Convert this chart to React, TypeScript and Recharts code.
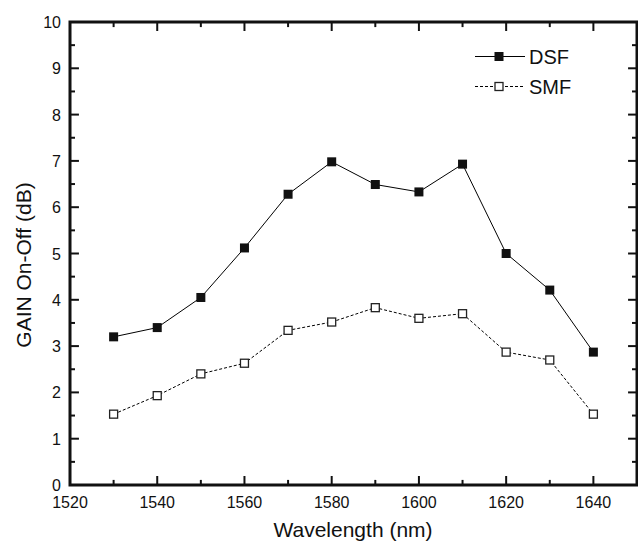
import { LineChart, Line, XAxis, YAxis, ReferenceArea, ReferenceLine } from "recharts";

const wavelengths = [1530, 1540, 1550, 1560, 1570, 1580, 1590, 1600, 1610, 1620, 1630, 1640];
const dsfGain = [3.2, 3.4, 4.05, 5.12, 6.28, 6.98, 6.49, 6.33, 6.93, 5.0, 4.21, 2.87];
const smfGain = [1.53, 1.93, 2.4, 2.63, 3.34, 3.52, 3.83, 3.6, 3.7, 2.87, 2.7, 1.53];

const xTicks = [1520, 1530, 1540, 1550, 1560, 1570, 1580, 1590, 1600, 1610, 1620, 1630, 1640, 1650];
const yTicks = [0, 0.5, 1, 1.5, 2, 2.5, 3, 3.5, 4, 4.5, 5, 5.5, 6, 6.5, 7, 7.5, 8, 8.5, 9, 9.5, 10];

const seriesNames = ["DSF", "SMF"];

const data = wavelengths.map((w, i) => ({
  wavelength: w,
  DSF: dsfGain[i],
  SMF: smfGain[i],
}));

const W = 638;
const H = 543;
const PLOT_LEFT = 70;
const PLOT_TOP = 22;
const PLOT_RIGHT = 637;
const PLOT_BOTTOM = 485;
const FONT = "'Liberation Sans', Arial, sans-serif";
const INK = "#111";

// tick lengths in data units (about 9px major / 5px minor)
const X_MIN = 1520;
const X_MAX = 1650;
const Y_MIN = 0;
const Y_MAX = 10;
const xTickLen = (major: boolean) => (major ? 0.195 : 0.11);
const yTickLen = (major: boolean) => (major ? 2.05 : 1.15);

const innerXTicks = xTicks.filter((v) => v > X_MIN && v < X_MAX);
const innerYTicks = yTicks.filter((v) => v > Y_MIN && v < Y_MAX);

function bottomTick(props: any) {
  const { x, y, payload } = props;
  const v = payload.value;
  if (v % 20 !== 0 || v >= 1650) return <g />;
  return (
    <text x={x} y={y + 23} textAnchor="middle" fontSize={16} fontFamily={FONT} fill={INK}>
      {v}
    </text>
  );
}

function leftTick(props: any) {
  const { x, y, payload } = props;
  const v = payload.value;
  if (!Number.isInteger(v)) return <g />;
  return (
    <text x={x - 9} y={y + 6} textAnchor="end" fontSize={16} fontFamily={FONT} fill={INK}>
      {v}
    </text>
  );
}

const FilledSquare = (props: any) => {
  const { cx, cy } = props;
  if (cx == null || cy == null) return <g />;
  return <rect x={cx - 4.5} y={cy - 4.5} width={9} height={9} fill="#111" />;
};

const OpenSquare = (props: any) => {
  const { cx, cy } = props;
  if (cx == null || cy == null) return <g />;
  return <rect x={cx - 4} y={cy - 4} width={8} height={8} fill="#fff" stroke="#222" strokeWidth={1.3} />;
};

// axis titles + legend as an overlay
const Overlay = () => (
  <svg
    width={W}
    height={H}
    style={{ position: "absolute", left: 0, top: 0, pointerEvents: "none" }}
  >
    <text x={353} y={537} textAnchor="middle" fontSize={21} fontFamily={FONT} fill={INK}>
      Wavelength (nm)
    </text>
    <text
      x={24}
      y={265}
      transform="rotate(-90, 24, 265)"
      textAnchor="middle"
      dy={7}
      fontSize={21}
      fontFamily={FONT}
      fill={INK}
    >
      GAIN On-Off (dB)
    </text>
    {seriesNames.map((name, i) => {
      const cy = 56.5 + i * 30;
      const dash = i === 0 ? undefined : "3 2";
      return (
        <g key={name}>
          <line x1={475} x2={525} y1={cy} y2={cy} stroke="#000" strokeWidth={1} strokeDasharray={dash} />
          {i === 0 ? (
            <rect x={494.5} y={cy - 4.5} width={9} height={9} fill="#111" />
          ) : (
            <rect x={495} y={cy - 4} width={8} height={8} fill="#fff" stroke="#222" strokeWidth={1.3} />
          )}
          <text x={529} y={cy + 7.5} fontSize={20} fontFamily={FONT} fill={INK}>
            {name}
          </text>
        </g>
      );
    })}
  </svg>
);

export default function App() {
  return (
    <div style={{ position: "absolute", left: 0, top: 0, width: W, height: H, background: "#fff" }}>
      <LineChart
        width={W}
        height={H}
        data={data}
        margin={{ top: PLOT_TOP, right: W - PLOT_RIGHT, bottom: 0, left: 0 }}
      >
        <XAxis
          xAxisId="bottom"
          dataKey="wavelength"
          type="number"
          domain={[X_MIN, X_MAX]}
          ticks={xTicks}
          interval={0}
          height={H - PLOT_BOTTOM}
          tickSize={0}
          tickMargin={0}
          tickLine={false}
          axisLine={false}
          tick={bottomTick}
        />
        <YAxis
          yAxisId="left"
          type="number"
          domain={[Y_MIN, Y_MAX]}
          ticks={yTicks}
          interval={0}
          width={PLOT_LEFT}
          tickSize={0}
          tickMargin={0}
          tickLine={false}
          axisLine={false}
          tick={leftTick}
        />
        <ReferenceArea
          xAxisId="bottom"
          yAxisId="left"
          x1={X_MIN}
          x2={X_MAX}
          y1={Y_MIN}
          y2={Y_MAX}
          fill="none"
          stroke={INK}
          strokeWidth={3}
          ifOverflow="visible"
          zIndex={700}
        />
        {innerXTicks.map((v) => {
          const len = xTickLen(v % 20 === 0);
          return [
            <ReferenceLine
              key={`b${v}`}
              xAxisId="bottom"
              yAxisId="left"
              segment={[{ x: v, y: Y_MIN }, { x: v, y: Y_MIN + len }]}
              stroke={INK}
              strokeWidth={2}
              ifOverflow="visible"
              zIndex={700}
            />,
            <ReferenceLine
              key={`t${v}`}
              xAxisId="bottom"
              yAxisId="left"
              segment={[{ x: v, y: Y_MAX }, { x: v, y: Y_MAX - len }]}
              stroke={INK}
              strokeWidth={2}
              ifOverflow="visible"
              zIndex={700}
            />,
          ];
        })}
        {innerYTicks.map((v) => {
          const len = yTickLen(Number.isInteger(v));
          return [
            <ReferenceLine
              key={`l${v}`}
              xAxisId="bottom"
              yAxisId="left"
              segment={[{ x: X_MIN, y: v }, { x: X_MIN + len, y: v }]}
              stroke={INK}
              strokeWidth={2}
              ifOverflow="visible"
              zIndex={700}
            />,
            <ReferenceLine
              key={`r${v}`}
              xAxisId="bottom"
              yAxisId="left"
              segment={[{ x: X_MAX, y: v }, { x: X_MAX - len, y: v }]}
              stroke={INK}
              strokeWidth={2}
              ifOverflow="visible"
              zIndex={700}
            />,
          ];
        })}
        <Line
          xAxisId="bottom"
          yAxisId="left"
          dataKey="DSF"
          stroke="#000"
          strokeWidth={1}
          dot={<FilledSquare />}
          isAnimationActive={false}
        />
        <Line
          xAxisId="bottom"
          yAxisId="left"
          dataKey="SMF"
          stroke="#000"
          strokeWidth={1}
          strokeDasharray="3 2"
          dot={<OpenSquare />}
          isAnimationActive={false}
        />
      </LineChart>
      <Overlay />
    </div>
  );
}
